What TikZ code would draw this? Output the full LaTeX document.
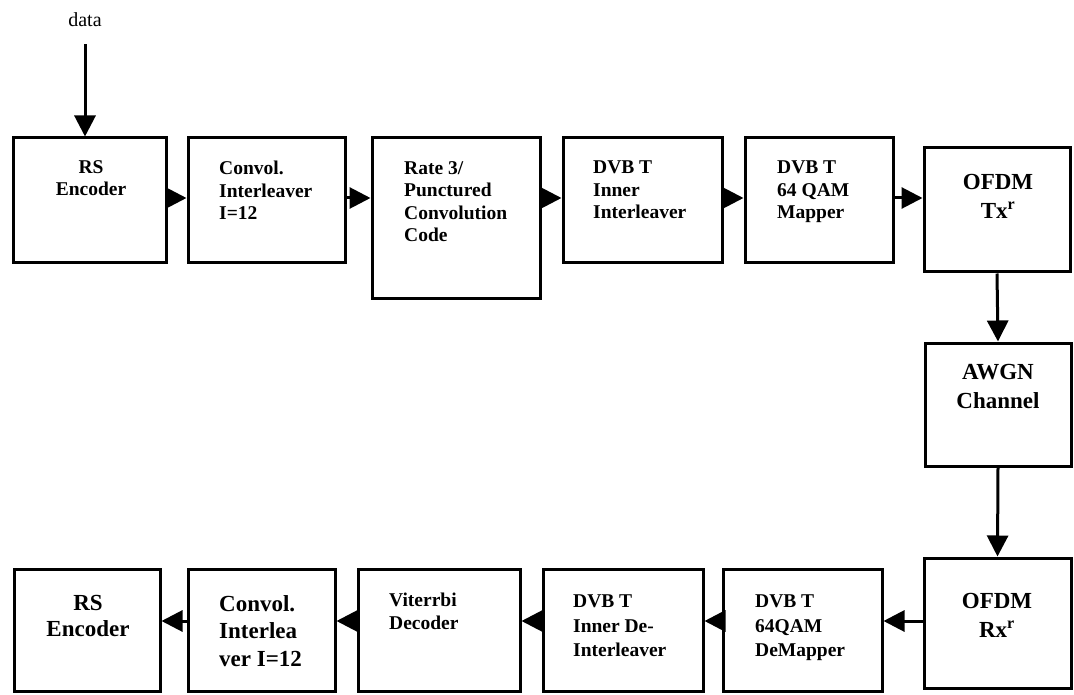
\documentclass[tikz,border=0pt]{standalone}
\usepackage{fontspec}
\setmainfont{Liberation Serif}
\usetikzlibrary{
  arrows.meta
  , positioning
}

\begin{document}
\begin{tikzpicture}[x=1pt, y=-1pt,
    blk/.style={draw=black, line width=3pt, inner sep=0pt},
    lbl/.style={font=\fontsize{19.5}{22.5}\selectfont\bfseries, align=left, inner sep=0pt},
    biglbl/.style={font=\fontsize{23}{29}\selectfont\bfseries, align=center, inner sep=0pt},
    arr/.style={-{Triangle[length=21pt,width=21pt]}, line width=3pt}
  ]
      \useasboundingbox (0,0) rectangle (1074,695);
      \coordinate (ty) at (0,198);
      \coordinate (by) at (0,621);

      % transmitter
      \node [blk, minimum width=153pt, minimum height=125pt] (rsA) at (89.5,200.5) {};
      \node [blk, minimum width=157pt, minimum height=125pt] (cilA) at (266.5,200.5) {};
      \node [blk, minimum width=168pt, minimum height=160pt] (punc) at (456,218) {};
      \node [blk, minimum width=159pt, minimum height=125pt] (innA) at (642.5,200.5) {};
      \node [blk, minimum width=148pt, minimum height=125pt] (mapA) at (819,200.5) {};
      \node [blk, minimum width=146pt, minimum height=124pt] (txA) at (997,210) {};

      % channel and receiver
      \node [blk, minimum width=146pt, minimum height=123pt] (awgn) at (998,404.5) {};
      \node [blk, minimum width=147pt, minimum height=130pt] (rxB) at (997.5,623) {};
      \node [blk, minimum width=159pt, minimum height=122pt] (demap) at (802.5,630) {};
      \node [blk, minimum width=160pt, minimum height=122pt] (indeB) at (623,630) {};
      \node [blk, minimum width=162pt, minimum height=122pt] (vit) at (439,630) {};
      \node [blk, minimum width=147pt, minimum height=122pt] (cilB) at (261.5,630) {};
      \node [blk, minimum width=146pt, minimum height=122pt] (rsB) at (87,630) {};

      % texts
      \node [font=\fontsize{20}{22}\selectfont, inner sep=0pt] (dtxt) at (85,20) {data};
      \node [lbl, align=center, anchor=north] (rsAtxt) at (91,160) {RS\\Encoder};
      \node [lbl, anchor=north west] (cilAtxt) at (219,161) {Convol.\\Interleaver\\I=12};
      \node [lbl, anchor=north west] (punctxt) at (404,161) {Rate 3/\\Punctured\\Convolution\\Code};
      \node [lbl, anchor=north west] (innAtxt) at (593,161) {DVB T\\Inner\\Interleaver};
      \node [lbl, anchor=north west] (mapAtxt) at (777,161) {DVB T\\64 QAM\\Mapper};
      \node [biglbl, anchor=north] (txAtxt) at (998,174) {OFDM\\Tx\textsuperscript{r}};
      \node [biglbl, anchor=north] (awgntxt) at (998,364) {AWGN\\Channel};
      \node [biglbl, anchor=north] (rxBtxt) at (997,593) {OFDM\\Rx\textsuperscript{r}};
      \node [lbl, font=\fontsize{19.5}{24.5}\selectfont\bfseries, anchor=north west] (demaptxt) at (755,595) {DVB T\\64QAM\\DeMapper};
      \node [lbl, font=\fontsize{19.5}{24.5}\selectfont\bfseries, anchor=north west] (indetxt) at (573,595) {DVB T\\Inner De-\\Interleaver};
      \node [lbl, anchor=north west] (vittxt) at (389,593) {Viterrbi\\Decoder};
      \node [biglbl, font=\fontsize{23}{27.5}\selectfont\bfseries, align=left, anchor=north west] (cilBtxt) at (219,595) {Convol.\\Interlea\\ver I=12};
      \node [biglbl, font=\fontsize{23}{26}\selectfont\bfseries, anchor=north] (rsBtxt) at (88,595) {RS\\Encoder};

      % arrows
      \draw [arr] ([yshift=-17pt]dtxt.south) -- (dtxt.south |- rsA.north);
      \draw [arr] (rsA.east |- ty) -- (cilA.west |- ty);
      \draw [arr] (cilA.east |- ty) -- (punc.west |- ty);
      \draw [arr] (punc.east |- ty) -- (innA.west |- ty);
      \draw [arr] (innA.east |- ty) -- (mapA.west |- ty);
      \draw [arr] (mapA.east |- ty) -- (txA.west |- ty);
      \draw [arr] (txA.south) -- (awgn.north);
      \draw [arr] (awgn.south) -- (rxB.north);
      \draw [arr] (rxB.west |- by) -- (demap.east |- by);
      \draw [arr] (demap.west |- by) -- (indeB.east |- by);
      \draw [arr] (indeB.west |- by) -- (vit.east |- by);
      \draw [arr] (vit.west |- by) -- (cilB.east |- by);
      \draw [arr] (cilB.west |- by) -- (rsB.east |- by);
\end{tikzpicture}
\end{document}
